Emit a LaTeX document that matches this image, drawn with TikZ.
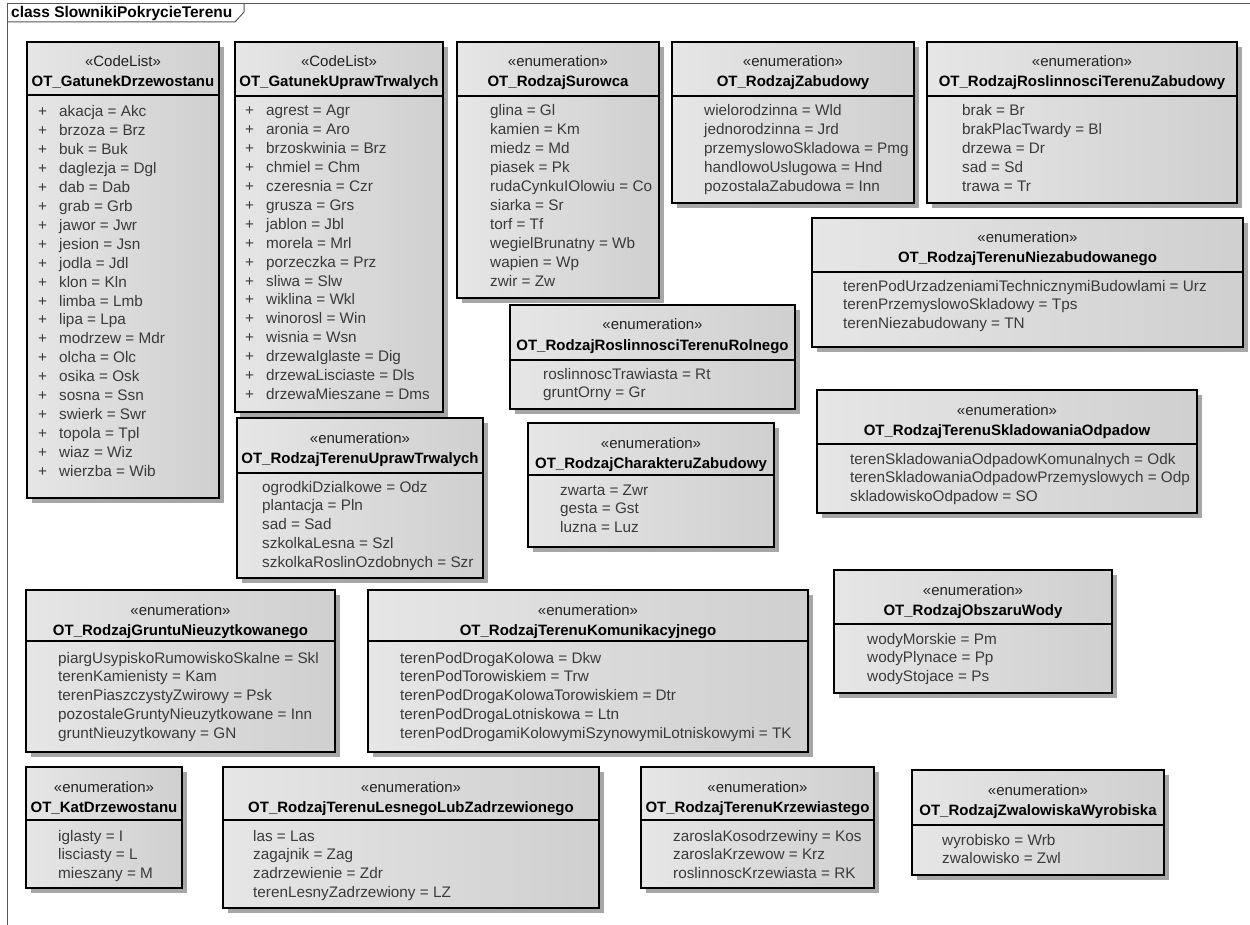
\documentclass[tikz,border=0pt]{standalone}
\usepackage{fontspec}
\setmainfont{Liberation Sans}

\definecolor{boxedge}{HTML}{DADADA}
\definecolor{boxlight}{HTML}{F0F0F0}
\definecolor{boxdark}{HTML}{C4C4C4}
\definecolor{shadowgray}{HTML}{A6A6A6}
\definecolor{attrgray}{HTML}{3A3A3A}
\definecolor{stereogray}{HTML}{222222}
\definecolor{framegray}{HTML}{555555}

% left-to-right fill used by every class box
\pgfdeclarehorizontalshading{boxfill}{100bp}{color(0bp)=(boxedge); color(3bp)=(boxlight); color(100bp)=(boxdark)}

\tikzset{
  boxline/.style={draw=black, line width=1.5pt},
  stereo/.style={anchor=base, inner sep=0pt, font=\fontsize{15}{18}\selectfont, text=stereogray},
  classname/.style={anchor=base, inner sep=0pt, font=\fontsize{15}{18}\selectfont\bfseries, text=black},
  attr/.style={anchor=base west, inner sep=0pt, font=\fontsize{15.3}{18}\selectfont, text=attrgray},
  framestyle/.style={draw=framegray, line width=1pt},
  frametitle/.style={anchor=base west, inner sep=0pt, font=\fontsize{15.5}{18}\selectfont\bfseries, text=black},
}

% #1 id, #2 left, #3 top, #4 right, #5 bottom, #6 separator, #7 stereotype, #8 class name
\newcommand\classbox[8]{%
  \fill[shadowgray] ({#2+5},{#3+5}) rectangle ({#4+5},{#5+5});
  \shade[shading=boxfill] (#2,#3) rectangle (#4,#5);
  \draw[boxline] (#2,#3) rectangle (#4,#5);
  \draw[boxline] (#2,#6) -- (#4,#6);
  \node[stereo] (#1-st) at ({(#2+#4)/2},{#3+25}) {«#7»};
  \node[classname] (#1-nm) at ({(#2+#4)/2},{#3+45}) {#8};
}
% #1 id, #2 text x, #3 centre of first row, #4 rows
\newcommand\classrows[4]{%
  \foreach \r [count=\i] in {#4}
    \node[attr] (#1-r\i) at (#2,{#3+5+(\i-1)*18.9}) {\r};
}
% same, with a leading "+" column
\newcommand\classrowsplus[4]{%
  \foreach \r [count=\i] in {#4} {
    \node[attr] (#1-p\i) at ({#2-21},{#3+5+(\i-1)*18.9}) {+};
    \node[attr] (#1-r\i) at (#2,{#3+5+(\i-1)*18.9}) {\r};
  }
}

\begin{document}
\begin{tikzpicture}[x=1pt,y=-1pt]
\useasboundingbox (0,0) rectangle (1250,925);
\fill[white] (0,0) rectangle (1250,925);

% package frame with its name tab
\draw[framestyle] (7,925) -- (7,4) -- (1250,4);
\draw[framestyle] (7,22) -- (235,22) -- (244,12) -- (244,4);
\node[frametitle] (frame) at (11,18) {class SlownikiPokrycieTerenu};

% code lists
\classbox{gd}{27}{42}{219}{498}{95}{CodeList}{OT\_GatunekDrzewostanu}
\classrowsplus{gd}{59}{112}{akacja = Akc, brzoza = Brz, buk = Buk, daglezja = Dgl, dab = Dab, grab = Grb, jawor = Jwr, jesion = Jsn, jodla = Jdl, klon = Kln, limba = Lmb, lipa = Lpa, modrzew = Mdr, olcha = Olc, osika = Osk, sosna = Ssn, swierk = Swr, topola = Tpl, wiaz = Wiz, wierzba = Wib}

\classbox{gu}{235}{42}{443}{412}{96}{CodeList}{OT\_GatunekUprawTrwalych}
\classrowsplus{gu}{266}{111}{agrest = Agr, aronia = Aro, brzoskwinia = Brz, chmiel = Chm, czeresnia = Czr, grusza = Grs, jablon = Jbl, morela = Mrl, porzeczka = Prz, sliwa = Slw, wiklina = Wkl, winorosl = Win, wisnia = Wsn, drzewaIglaste = Dig, drzewaLisciaste = Dls, drzewaMieszane = Dms}

% enumerations, top row
\classbox{rs}{457}{42}{659}{298}{96}{enumeration}{OT\_RodzajSurowca}
\classrows{rs}{490}{111}{glina = Gl, kamien = Km, miedz = Md, piasek = Pk, rudaCynkuIOlowiu = Co, siarka = Sr, torf = Tf, wegielBrunatny = Wb, wapien = Wp, zwir = Zw}

\classbox{rz}{672}{42}{914}{203}{96}{enumeration}{OT\_RodzajZabudowy}
\classrows{rz}{704}{111}{wielorodzinna = Wld, jednorodzinna = Jrd, przemyslowoSkladowa = Pmg, handlowoUslugowa = Hnd, pozostalaZabudowa = Inn}

\classbox{rrz}{927}{42}{1237}{203}{96}{enumeration}{OT\_RodzajRoslinnosciTerenuZabudowy}
\classrows{rrz}{962}{111}{brak = Br, brakPlacTwardy = Bl, drzewa = Dr, sad = Sd, trawa = Tr}

\classbox{rtn}{812}{218}{1243}{347}{272}{enumeration}{OT\_RodzajTerenuNiezabudowanego}
\classrows{rtn}{843}{286}{terenPodUrzadzeniamiTechnicznymiBudowlami = Urz, terenPrzemyslowoSkladowy = Tps, terenNiezabudowany = TN}

\classbox{rrr}{510}{305}{795}{409}{360}{enumeration}{OT\_RodzajRoslinnosciTerenuRolnego}
\classrows{rrr}{543}{374}{roslinnoscTrawiasta = Rt, gruntOrny = Gr}

\classbox{rtu}{237}{418}{483}{578}{473}{enumeration}{OT\_RodzajTerenuUprawTrwalych}
\classrows{rtu}{262}{487}{ogrodkiDzialkowe = Odz, plantacja = Pln, sad = Sad, szkolkaLesna = Szl, szkolkaRoslinOzdobnych = Szr}

\classbox{rcz}{528}{423}{774}{547}{475}{enumeration}{OT\_RodzajCharakteruZabudowy}
\classrows{rcz}{560}{490}{zwarta = Zwr, gesta = Gst, luzna = Luz}

\classbox{rso}{817}{390}{1197}{513}{444}{enumeration}{OT\_RodzajTerenuSkladowaniaOdpadow}
\classrows{rso}{850}{459}{terenSkladowaniaOdpadowKomunalnych = Odk, terenSkladowaniaOdpadowPrzemyslowych = Odp, skladowiskoOdpadow = SO}

\classbox{row}{834}{570}{1112}{693}{624}{enumeration}{OT\_RodzajObszaruWody}
\classrows{row}{867}{639}{wodyMorskie = Pm, wodyPlynace = Pp, wodyStojace = Ps}

% enumerations, lower rows
\classbox{rgn}{26}{590}{335}{752}{641}{enumeration}{OT\_RodzajGruntuNieuzytkowanego}
\classrows{rgn}{58}{658}{piargUsypiskoRumowiskoSkalne = Skl, terenKamienisty = Kam, terenPiaszczystyZwirowy = Psk, pozostaleGruntyNieuzytkowane = Inn, gruntNieuzytkowany = GN}

\classbox{rtk}{368}{590}{808}{752}{641}{enumeration}{OT\_RodzajTerenuKomunikacyjnego}
\classrows{rtk}{400}{658}{terenPodDrogaKolowa = Dkw, terenPodTorowiskiem = Trw, terenPodDrogaKolowaTorowiskiem = Dtr, terenPodDrogaLotniskowa = Ltn, terenPodDrogamiKolowymiSzynowymiLotniskowymi = TK}

\classbox{kd}{26}{767}{182}{888}{820}{enumeration}{OT\_KatDrzewostanu}
\classrows{kd}{58}{836}{iglasty = I, lisciasty = L, mieszany = M}

\classbox{rtl}{223}{767}{599}{908}{820}{enumeration}{OT\_RodzajTerenuLesnegoLubZadrzewionego}
\classrows{rtl}{253}{836}{las = Las, zagajnik = Zag, zadrzewienie = Zdr, terenLesnyZadrzewiony = LZ}

\classbox{rtkr}{641}{767}{874}{888}{820}{enumeration}{OT\_RodzajTerenuKrzewiastego}
\classrows{rtkr}{673}{836}{zaroslaKosodrzewiny = Kos, zaroslaKrzewow = Krz, roslinnoscKrzewiasta = RK}

\classbox{rzw}{912}{770}{1164}{875}{825}{enumeration}{OT\_RodzajZwalowiskaWyrobiska}
\classrows{rzw}{942}{840}{wyrobisko = Wrb, zwalowisko = Zwl}

\end{tikzpicture}
\end{document}
